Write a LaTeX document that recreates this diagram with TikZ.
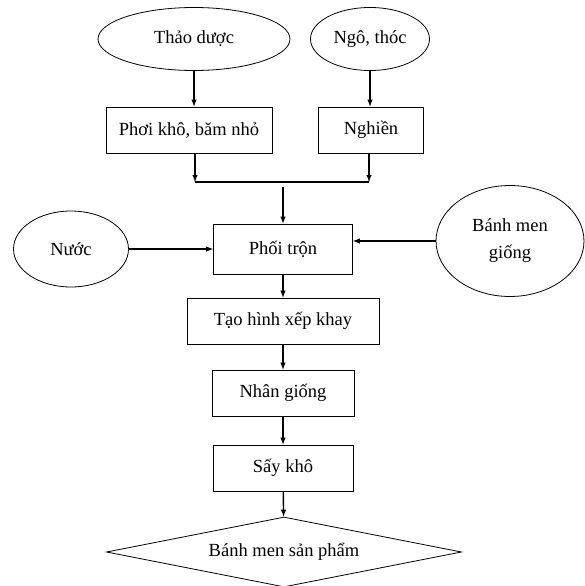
\documentclass[tikz,border=0pt]{standalone}
\usepackage{fontspec}
\setmainfont{Liberation Serif}
\usetikzlibrary{arrows,shapes.geometric}

\tikzset{
	procbox/.style={draw, line width=0.8pt, rectangle, inner sep=0pt, minimum height=46pt},
	input/.style={draw, line width=0.8pt, ellipse, inner sep=0pt, align=center},
	flow/.style={-latex, line width=1.4pt}
}

\begin{document}
\begin{tikzpicture}[x=1pt,y=-1pt,font=\fontsize{18.5}{27}\selectfont]
	\useasboundingbox (0,0) rectangle (584,586);
	\node[input, minimum width=192pt, minimum height=63pt] (thao) at (194,39) {Thảo dược};
	\node[input, minimum width=119pt, minimum height=63pt] (ngo) at (370,39) {Ngô, thóc};
	\node[procbox, minimum width=166pt] (phoi) at (189,130) {Phơi khô, băm nhỏ};
	\node[procbox, minimum width=105pt] (nghien) at (371,130) {Nghiền};
	\node[procbox, minimum width=139pt, minimum height=50pt] (tron) at (283,249) {Phối trộn};
	\node[input, minimum width=115pt, minimum height=76pt] (nuoc) at (71,249) {Nước};
	\node[input, minimum width=148pt, minimum height=111pt] (men) at (510,241) {Bánh men\\giống};
	\node[procbox, minimum width=192pt] (taohinh) at (283,321) {Tạo hình xếp khay};
	\node[procbox, minimum width=142pt] (nhan) at (283,393) {Nhân giống};
	\node[procbox, minimum width=140pt] (say) at (283,468) {Sấy khô};
	\node[draw, line width=0.8pt, diamond, aspect=5, inner sep=0pt, minimum width=355pt, minimum height=70pt] (sp) at (284,552) {Bánh men sản phẩm};
	\coordinate (jl) at (195,182);
	\coordinate (jr) at (369,182);
	\coordinate (jm) at (283,187);
	\draw[flow] (thao.south) -- (thao.south |- phoi.north);
	\draw[flow] (ngo.south) -- (ngo.south |- nghien.north);
	\draw[flow] (phoi.south -| jl) -- (jl);
	\draw[flow] (nghien.south -| jr) -- (jr);
	\draw[line width=1.4pt] (jl) -- (jr);
	\draw[flow] (jm) -- (tron);
	\draw[flow] (nuoc.east) -- (tron.west);
	\draw[flow] (men.west) -- (men.west -| tron.east);
	\draw[flow] (tron) -- (taohinh);
	\draw[flow] (taohinh) -- (nhan);
	\draw[flow] (nhan) -- (say);
	\draw[flow] (say) -- (sp);
\end{tikzpicture}
\end{document}
